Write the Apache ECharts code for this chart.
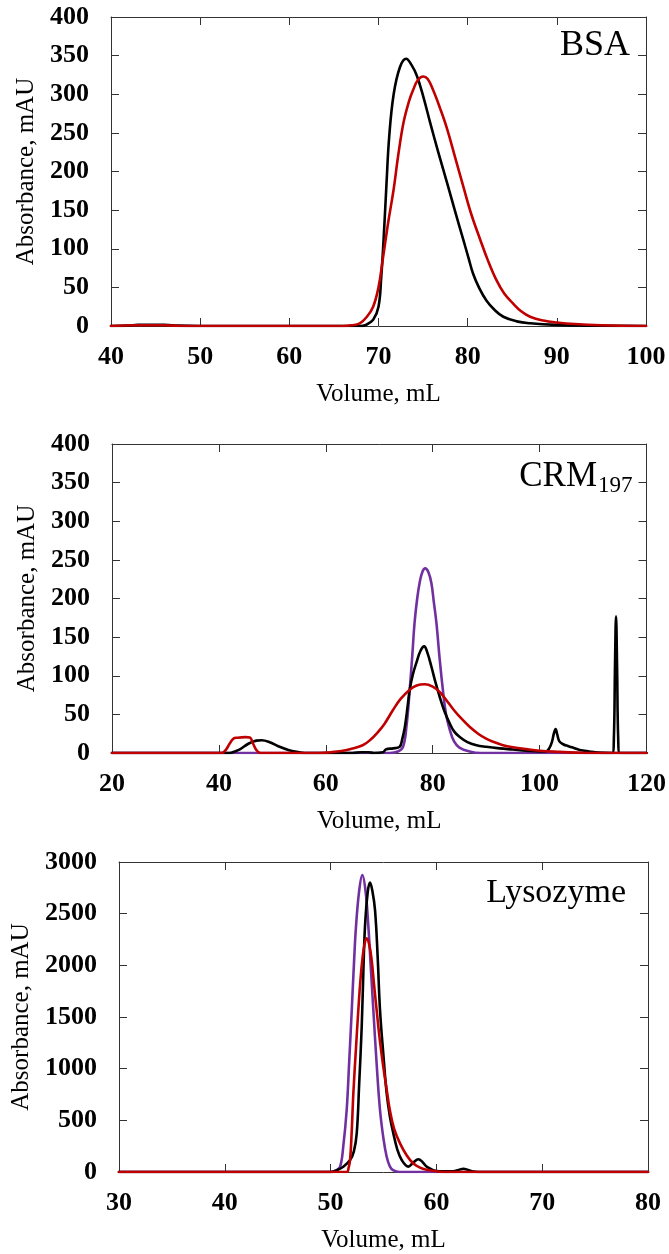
<!DOCTYPE html>
<html>
<head>
<meta charset="utf-8">
<script src="https://cdn.jsdelivr.net/npm/echarts@6/dist/echarts.min.js"></script>
<style>
html,body{margin:0;padding:0;background:#fff;}
#c{width:669px;height:1254px;}
</style>
</head>
<body>
<div id="c"></div>
<script>
// ---- Panel 1: BSA (x 40-100 mL, y 0-400 mAU)
const bsaBlack = [[40,0],[42,0.5],[43,1.5],[46,1.5],[47.5,0.5],[50,0],[68,0],[68.5,1],[69.4,8],[70,25],[70.3,62],[70.6,118],[70.9,185],[71.2,245],[71.7,300],[72.4,335],[73.1,346],[73.7,338],[74.3,324],[75,298],[75.8,263],[76.7,225],[77.7,185],[78.6,148],[79.5,112],[80.1,88],[80.6,68],[81.3,49],[82.1,33],[83,21],[84,12],[85.5,6],[87,3.5],[90,1.5],[95,0.3],[100,0]];
const bsaRed = [[40,0],[43,1],[46,1],[48,0],[66,0],[67,1],[67.9,3.5],[68.7,12],[69.4,25],[70,50],[70.5,88],[71.1,135],[71.7,177],[72.2,220],[72.8,263],[73.4,290],[73.9,306],[74.4,318],[75,323],[75.5,320],[76.1,306],[76.9,282],[77.7,255],[78.6,218],[79.5,181],[80.4,145],[81.4,112],[82.3,84],[83.2,60],[84.1,42],[85.1,29],[86,19],[87,12],[88.5,7],[90,4.5],[92,2.5],[95,1],[100,0]];

// ---- Panel 2: CRM197 (x 20-120 mL, y 0-400 mAU)
const crmPurple = [[20,0],[72,0],[73.5,2],[74.45,8],[75.1,35],[75.7,82],[76.2,128],[76.6,168],[77.1,200],[77.6,222],[78.1,235],[78.6,239],[79.2,234],[79.75,220],[80.2,196],[80.7,168],[81.3,122],[81.9,82],[82.5,50],[83.2,30],[84,15],[85,7],[86.9,2],[89,0],[120,0]];
const crmBlack = [[20,0],[42,0],[43,2],[44,5],[45.5,12],[47,16],[48,16.5],[49.5,14],[51,9],[53,4],[55,1],[56,0],[65,0],[66.5,1],[68,1],[69,0],[70.7,1],[71.3,5],[72.6,6],[73.8,8],[74.3,18],[74.8,34],[75.3,60],[75.7,82],[76.3,102],[77,118],[77.7,132],[78.4,138],[79,130],[79.75,112],[80.5,92],[81.3,73],[82.2,54],[83.2,38],[84,28],[85,21],[86.5,14],[88.2,10],[90,8],[92.5,6],[95,4.5],[97.5,3],[100,2],[101.2,2],[101.8,6],[102.3,14],[102.7,26],[103,31],[103.3,24],[103.7,15],[104.5,11],[105.3,9],[106.2,7],[107.5,4],[109.3,2],[111,0.5],[113.6,0],[113.9,20],[114.1,110],[114.3,177],[114.5,110],[114.7,20],[115,0],[120,0]];
const crmRed = [[20,0],[40.5,0],[41.3,4],[42,12],[42.7,18.5],[43.5,19.8],[45,20.5],[45.8,20],[46.4,12],[47,4],[47.8,0],[59,0],[61,1],[62.9,2.6],[64.5,5],[66.9,10],[68.5,18],[69.5,25],[71,38],[72.6,56],[74,70],[75.7,82],[77,87.5],[78.5,89],[80,86],[81.3,79],[82.5,69],[83.8,57],[85.3,45],[86.9,34],[88.5,25],[90,18.5],[91.3,14.5],[93,10.5],[95,7.5],[97.5,5],[100,3],[103.7,1.5],[107,0.5],[110,0],[120,0]];

// ---- Panel 3: Lysozyme (x 30-80 mL, y 0-3000 mAU)
const lysPurple = [[30,0],[50,0],[50.5,15],[50.9,52],[51.2,250],[51.52,600],[51.75,1050],[52,1568],[52.2,2000],[52.4,2374],[52.7,2720],[53,2874],[53.3,2720],[53.57,2374],[53.8,1980],[54.04,1568],[54.35,1050],[54.67,600],[55,320],[55.3,148],[55.6,55],[55.9,19],[56.5,0],[80,0]];
const lysBlack = [[30,0],[50,0],[50.58,16],[51.2,50],[51.84,116],[52.2,200],[52.47,374],[52.7,850],[52.94,1406],[53.1,1950],[53.25,2374],[53.5,2700],[53.72,2800],[53.95,2720],[54.2,2535],[54.45,2080],[54.67,1568],[55,1120],[55.3,761],[55.6,540],[55.93,374],[56.3,220],[56.72,116],[57.35,52],[57.8,90],[58.3,123],[58.7,95],[59.08,52],[60,10],[61.6,7],[62.1,20],[62.55,32],[63,20],[63.5,5],[64.5,0],[80,0]];
const lysRed = [[30,0],[51.52,0],[51.7,40],[51.84,116],[52,400],[52.15,761],[52.4,1200],[52.62,1568],[52.83,1870],[53.03,2084],[53.2,2200],[53.4,2262],[53.65,2200],[53.88,2052],[54.1,1820],[54.35,1568],[54.65,1280],[54.98,1019],[55.3,800],[55.6,600],[56,420],[56.56,277],[57.2,160],[57.8,84],[58.4,45],[59.08,22],[60.3,3],[61,0],[80,0]];

// ---- Axis ranges / labels
const panelNames = ['BSA', 'CRM', 'Lysozyme'];
const xRanges = [[40,100,10],[20,120,20],[30,80,10]];
const yRanges = [[0,400,50],[0,400,50],[0,3000,500]];
const xTitle = 'Volume, mL';
const yTitle = 'Absorbance, mAU';

const FONT = '"Liberation Serif", "Times New Roman", serif';
const C_BLACK = '#000000', C_RED = '#c00000', C_PURPLE = '#7030a0';

const grids = [
  {left:111, right:23, top:17, height:309},
  {left:112, right:22, top:444, height:309},
  {left:119, right:21, top:862, height:310}
];

const axisLineStyle = {color:'#333', width:1};
const plain = v => String(v);
const xAxes = [], yAxes = [];
grids.forEach((g, i) => {
  const [xmin,xmax,xint] = xRanges[i];
  const [ymin,ymax,yint] = yRanges[i];
  xAxes.push({
    type:'value', gridIndex:i, min:xmin, max:xmax, interval:xint, position:'bottom',
    axisLine:{show:true, onZero:false, lineStyle:axisLineStyle},
    axisTick:{show:true, inside:true, length:8, lineStyle:axisLineStyle},
    splitLine:{show:false},
    axisLabel:{fontFamily:FONT, fontWeight:'bold', fontSize:26, color:'#000', margin:18, formatter:plain},
    name:xTitle, nameLocation:'middle', nameGap:56,
    nameTextStyle:{fontFamily:FONT, fontSize:25, color:'#000'}
  });
  xAxes.push({
    type:'value', gridIndex:i, min:xmin, max:xmax, interval:xint, position:'top',
    axisLine:{show:true, onZero:false, lineStyle:axisLineStyle},
    axisTick:{show:true, inside:true, length:8, lineStyle:axisLineStyle},
    splitLine:{show:false}, axisLabel:{show:false}
  });
  yAxes.push({
    type:'value', gridIndex:i, min:ymin, max:ymax, interval:yint, position:'left',
    axisLine:{show:true, onZero:false, lineStyle:axisLineStyle},
    axisTick:{show:true, inside:true, length:8, lineStyle:axisLineStyle},
    splitLine:{show:false},
    axisLabel:{fontFamily:FONT, fontWeight:'bold', fontSize:26, color:'#000', margin:22, formatter:plain},
    name:yTitle, nameLocation:'middle', nameGap:i === 2 ? 77 : 70, nameRotate:90,
    nameTextStyle:{fontFamily:FONT, fontSize:25, color:'#000'}
  });
  yAxes.push({
    type:'value', gridIndex:i, min:ymin, max:ymax, interval:yint, position:'right',
    axisLine:{show:true, onZero:false, lineStyle:axisLineStyle},
    axisTick:{show:true, inside:true, length:8, lineStyle:axisLineStyle},
    splitLine:{show:false}, axisLabel:{show:false}
  });
});

function mk(data, color, panel) {
  return {
    type:'line', data:data, xAxisIndex:panel*2, yAxisIndex:panel*2,
    showSymbol:false, smooth:0.4,
    lineStyle:{color:color, width:2.6, join:'round', cap:'round'}, itemStyle:{color:color},
    silent:true, animation:false
  };
}

const series = [
  mk(bsaBlack, C_BLACK, 0), mk(bsaRed, C_RED, 0),
  mk(crmPurple, C_PURPLE, 1), mk(crmBlack, C_BLACK, 1), mk(crmRed, C_RED, 1),
  mk(lysPurple, C_PURPLE, 2), mk(lysBlack, C_BLACK, 2), mk(lysRed, C_RED, 2)
];

const chart = echarts.init(document.getElementById('c'), null, {renderer:'canvas'});
chart.setOption({
  animation:false,
  backgroundColor:'#fff',
  grid:grids,
  xAxis:xAxes,
  yAxis:yAxes,
  series:series,
  graphic:[
    {type:'text', x:630, y:45.5, style:{text:panelNames[0], fontFamily:FONT, fontSize:36, fill:'#000', textAlign:'right', textVerticalAlign:'middle'}},
    {type:'text', x:597, y:476.5, style:{text:panelNames[1], fontFamily:FONT, fontSize:35, fill:'#000', textAlign:'right', textVerticalAlign:'middle'}},
    {type:'text', x:598, y:486, style:{text:'197', fontFamily:FONT, fontSize:23, fill:'#000', textAlign:'left', textVerticalAlign:'middle'}},
    {type:'text', x:626, y:893.5, style:{text:panelNames[2], fontFamily:FONT, fontSize:34, fill:'#000', textAlign:'right', textVerticalAlign:'middle'}}
  ]
});
</script>
</body>
</html>
